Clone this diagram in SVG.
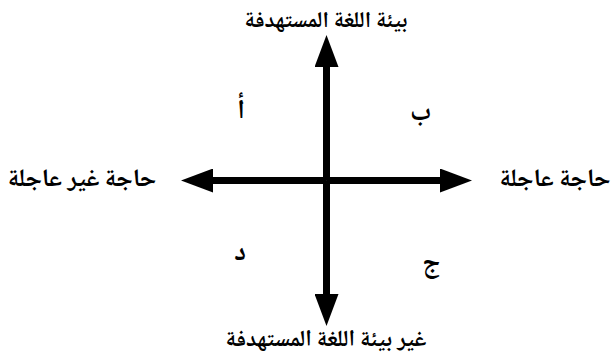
<svg xmlns="http://www.w3.org/2000/svg" width="612" height="362" viewBox="0 0 612 362">
<style>
.lbl{font-family:"Noto Naskh Arabic","Noto Sans Arabic","DejaVu Sans",sans-serif;font-weight:bold;font-size:24px;fill:#000;text-anchor:middle}
.q{font-size:27px}
.ax{stroke:#000;stroke-width:7;fill:none}
</style>
<defs>
<marker id="ah" viewBox="0 0 32 24" refX="0" refY="12" markerWidth="32" markerHeight="24" markerUnits="userSpaceOnUse" orient="auto">
<path d="M0,0 L32,12 L0,24 Z" fill="#000"/>
</marker>
</defs>
<rect width="612" height="362" fill="#fff"/>
<g id="connectors">
<line class="ax" x1="326.5" y1="180.5" x2="326.5" y2="67" marker-end="url(#ah)"/>
<line class="ax" x1="326.5" y1="180.5" x2="326.5" y2="294" marker-end="url(#ah)"/>
<line class="ax" x1="326.5" y1="180.5" x2="213" y2="180.5" marker-end="url(#ah)"/>
<line class="ax" x1="326.5" y1="180.5" x2="440" y2="180.5" marker-end="url(#ah)"/>
</g>
<g id="top"><text class="lbl" x="326" y="27" style="font-size:22.5px" direction="rtl">بيئة اللغة المستهدفة</text></g>
<g id="bottom"><text class="lbl" x="326" y="346" style="font-size:23px" direction="rtl">غير بيئة اللغة المستهدفة</text></g>
<g id="left"><text class="lbl" x="82" y="186" style="font-size:25px" direction="rtl">حاجة غير عاجلة</text></g>
<g id="right"><text class="lbl" x="555" y="186" style="font-size:25px" direction="rtl">حاجة عاجلة</text></g>
<g id="q-a"><text class="lbl q" x="241" y="118">أ</text></g>
<g id="q-b"><text class="lbl q" x="421" y="120">ب</text></g>
<g id="q-d"><text class="lbl q" x="240" y="260">د</text></g>
<g id="q-j"><text class="lbl q" x="431" y="271">ج</text></g>
</svg>
